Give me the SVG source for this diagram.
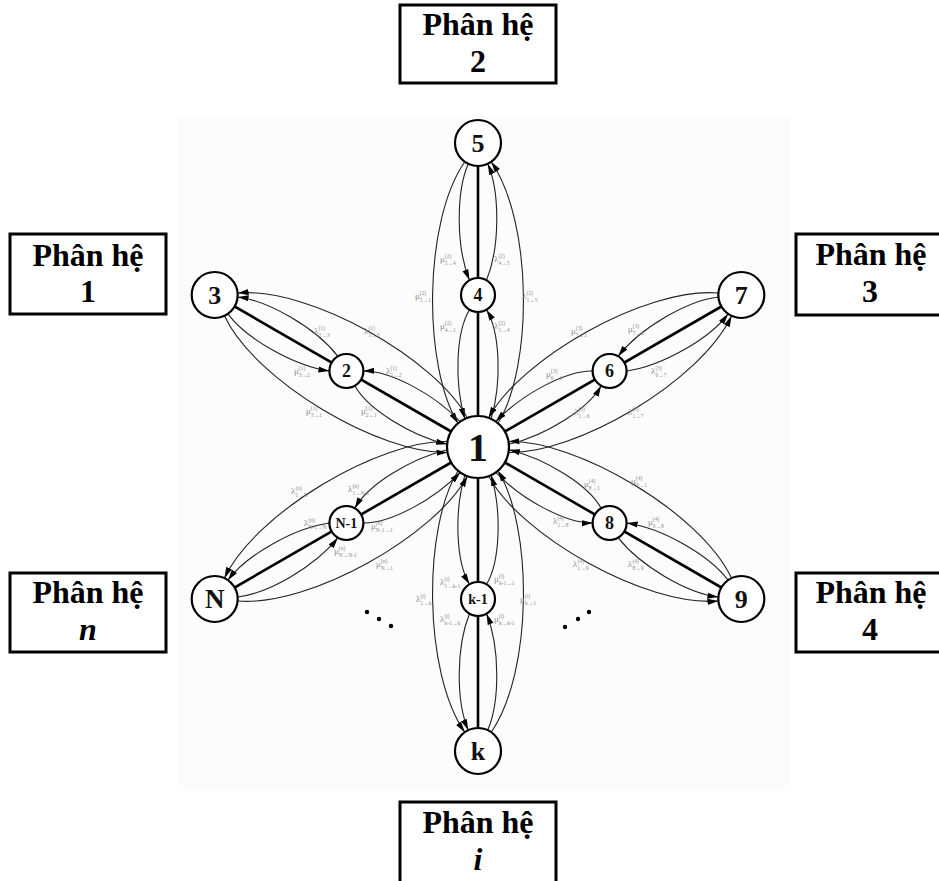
<svg xmlns="http://www.w3.org/2000/svg" width="939" height="881" viewBox="0 0 939 881">
<defs>
<style>
.box{fill:#fff;stroke:#000;stroke-width:3}
.bt{font-family:"Liberation Serif","Times New Roman",serif;font-weight:bold;font-size:32px;fill:#000;text-anchor:middle}
.nd{fill:#fff;stroke:#000;stroke-width:2.2}
.nt{font-family:"Liberation Serif","Times New Roman",serif;font-weight:bold;fill:#111;text-anchor:middle}
.thick{fill:none;stroke:#000;stroke-width:2.6}
.cv{fill:none;stroke:#222;stroke-width:1.1}
.ar{marker-end:url(#ah)}
.lb{font-family:"Liberation Serif","Times New Roman",serif;font-size:9px;fill:#8a8a8a}
.s{font-size:5.5px}
</style>
<marker id="ah" markerUnits="userSpaceOnUse" markerWidth="11" markerHeight="7" refX="11" refY="3.5" orient="auto">
<path d="M0,0.4 L11,3.5 L0,6.6 z" fill="#000"/>
</marker>
</defs>
<rect x="0" y="0" width="939" height="881" fill="#fff"/>
<rect x="178" y="115" width="612" height="675" fill="#fcfcfc"/>

<g id="boxes">
<g id="box-2"><rect class="box" x="400" y="5" width="156" height="78"/><text class="bt" x="478" y="35">Phân hệ</text><text class="bt" x="478" y="72">2</text></g>
<g id="box-1"><rect class="box" x="10" y="234" width="156" height="80"/><text class="bt" x="88" y="266">Phân hệ</text><text class="bt" x="88" y="302">1</text></g>
<g id="box-3"><rect class="box" x="796" y="234" width="160" height="81"/><text class="bt" x="871" y="265">Phân hệ</text><text class="bt" x="870" y="302">3</text></g>
<g id="box-4"><rect class="box" x="796" y="573" width="160" height="79"/><text class="bt" x="871" y="603">Phân hệ</text><text class="bt" x="870" y="640">4</text></g>
<g id="box-n"><rect class="box" x="10" y="573" width="156" height="79"/><text class="bt" x="88" y="603">Phân hệ</text><text class="bt" x="88" y="640" font-style="italic">n</text></g>
<g id="box-i"><rect class="box" x="400" y="802" width="156" height="90"/><text class="bt" x="478" y="833">Phân hệ</text><text class="bt" x="478" y="870" font-style="italic">i</text></g>
</g>

<g id="connectors">
<g id="spoke-2" transform="translate(478 447) rotate(0)">
<path class="thick" d="M0,0 L0,-304"/>
<path class="cv ar" d="M19.9,-23.7 C55,-80 55,-225 13.2,-285.2"/>
<path class="cv ar" d="M-13.2,-285.2 C-55,-225 -55,-80 -19.9,-23.7"/>
<path class="cv ar" d="M8.5,-166.7 C22,-200 22,-255 9.7,-283.2"/>
<path class="cv ar" d="M-9.7,-283.2 C-22,-255 -22,-200 -8.5,-166.7"/>
<path class="cv ar" d="M13.1,-28.1 C24,-65 22,-115 8.5,-137.3"/>
<path class="cv ar" d="M-8.5,-137.3 C-22,-115 -24,-65 -13.1,-28.1"/>
</g>
<g id="spoke-3" transform="translate(478 447) rotate(60)">
<path class="thick" d="M0,0 L0,-304"/>
<path class="cv ar" d="M19.9,-23.7 C55,-80 55,-225 13.2,-285.2"/>
<path class="cv ar" d="M-13.2,-285.2 C-55,-225 -55,-80 -19.9,-23.7"/>
<path class="cv ar" d="M8.5,-166.7 C22,-200 22,-255 9.7,-283.2"/>
<path class="cv ar" d="M-9.7,-283.2 C-22,-255 -22,-200 -8.5,-166.7"/>
<path class="cv ar" d="M13.1,-28.1 C24,-65 22,-115 8.5,-137.3"/>
<path class="cv ar" d="M-8.5,-137.3 C-22,-115 -24,-65 -13.1,-28.1"/>
</g>
<g id="spoke-4" transform="translate(478 447) rotate(120)">
<path class="thick" d="M0,0 L0,-304"/>
<path class="cv ar" d="M19.9,-23.7 C55,-80 55,-225 13.2,-285.2"/>
<path class="cv ar" d="M-13.2,-285.2 C-55,-225 -55,-80 -19.9,-23.7"/>
<path class="cv ar" d="M8.5,-166.7 C22,-200 22,-255 9.7,-283.2"/>
<path class="cv ar" d="M-9.7,-283.2 C-22,-255 -22,-200 -8.5,-166.7"/>
<path class="cv ar" d="M13.1,-28.1 C24,-65 22,-115 8.5,-137.3"/>
<path class="cv ar" d="M-8.5,-137.3 C-22,-115 -24,-65 -13.1,-28.1"/>
</g>
<g id="spoke-i" transform="translate(478 447) rotate(180)">
<path class="thick" d="M0,0 L0,-304"/>
<path class="cv ar" d="M19.9,-23.7 C55,-80 55,-225 13.2,-285.2"/>
<path class="cv ar" d="M-13.2,-285.2 C-55,-225 -55,-80 -19.9,-23.7"/>
<path class="cv ar" d="M8.5,-166.7 C22,-200 22,-255 9.7,-283.2"/>
<path class="cv ar" d="M-9.7,-283.2 C-22,-255 -22,-200 -8.5,-166.7"/>
<path class="cv ar" d="M13.1,-28.1 C24,-65 22,-115 8.5,-137.3"/>
<path class="cv ar" d="M-8.5,-137.3 C-22,-115 -24,-65 -13.1,-28.1"/>
</g>
<g id="spoke-n" transform="translate(478 447) rotate(240)">
<path class="thick" d="M0,0 L0,-304"/>
<path class="cv ar" d="M19.9,-23.7 C55,-80 55,-225 13.2,-285.2"/>
<path class="cv ar" d="M-13.2,-285.2 C-55,-225 -55,-80 -19.9,-23.7"/>
<path class="cv ar" d="M8.5,-166.7 C22,-200 22,-255 9.7,-283.2"/>
<path class="cv ar" d="M-9.7,-283.2 C-22,-255 -22,-200 -8.5,-166.7"/>
<path class="cv ar" d="M13.1,-28.1 C24,-65 22,-115 8.5,-137.3"/>
<path class="cv ar" d="M-8.5,-137.3 C-22,-115 -24,-65 -13.1,-28.1"/>
</g>
<g id="spoke-1" transform="translate(478 447) rotate(300)">
<path class="thick" d="M0,0 L0,-304"/>
<path class="cv ar" d="M19.9,-23.7 C55,-80 55,-225 13.2,-285.2"/>
<path class="cv ar" d="M-13.2,-285.2 C-55,-225 -55,-80 -19.9,-23.7"/>
<path class="cv ar" d="M8.5,-166.7 C22,-200 22,-255 9.7,-283.2"/>
<path class="cv ar" d="M-9.7,-283.2 C-22,-255 -22,-200 -8.5,-166.7"/>
<path class="cv ar" d="M13.1,-28.1 C24,-65 22,-115 8.5,-137.3"/>
<path class="cv ar" d="M-8.5,-137.3 C-22,-115 -24,-65 -13.1,-28.1"/>
</g>
</g>

<g id="labels">
<text class="lb" x="440" y="262">μ<tspan class="s" dy="-4">(2)</tspan><tspan class="s" dx="-6.4" dy="7">5→4</tspan></text>
<text class="lb" x="494" y="262">λ<tspan class="s" dy="-4">(2)</tspan><tspan class="s" dx="-6.4" dy="7">4→5</tspan></text>
<text class="lb" x="415" y="299">μ<tspan class="s" dy="-4">(2)</tspan><tspan class="s" dx="-6.4" dy="7">5→1</tspan></text>
<text class="lb" x="522" y="299">λ<tspan class="s" dy="-4">(2)</tspan><tspan class="s" dx="-6.4" dy="7">1→5</tspan></text>
<text class="lb" x="440" y="329">μ<tspan class="s" dy="-4">(2)</tspan><tspan class="s" dx="-6.4" dy="7">4→1</tspan></text>
<text class="lb" x="494" y="329">λ<tspan class="s" dy="-4">(2)</tspan><tspan class="s" dx="-6.4" dy="7">1→4</tspan></text>

<text class="lb" x="314" y="334">λ<tspan class="s" dy="-4">(1)</tspan><tspan class="s" dx="-6.4" dy="7">2→3</tspan></text>
<text class="lb" x="364" y="334">λ<tspan class="s" dy="-4">(1)</tspan><tspan class="s" dx="-6.4" dy="7">1→3</tspan></text>
<text class="lb" x="386" y="374">λ<tspan class="s" dy="-4">(1)</tspan><tspan class="s" dx="-6.4" dy="7">1→2</tspan></text>
<text class="lb" x="294" y="374">μ<tspan class="s" dy="-4">(1)</tspan><tspan class="s" dx="-6.4" dy="7">3→2</tspan></text>
<text class="lb" x="306" y="414">μ<tspan class="s" dy="-4">(1)</tspan><tspan class="s" dx="-6.4" dy="7">3→1</tspan></text>
<text class="lb" x="361" y="414">μ<tspan class="s" dy="-4">(1)</tspan><tspan class="s" dx="-6.4" dy="7">2→1</tspan></text>

<text class="lb" x="571" y="334">μ<tspan class="s" dy="-4">(3)</tspan><tspan class="s" dx="-6.4" dy="7">7→1</tspan></text>
<text class="lb" x="628" y="332">μ<tspan class="s" dy="-4">(3)</tspan><tspan class="s" dx="-6.4" dy="7">7→6</tspan></text>
<text class="lb" x="546" y="377">μ<tspan class="s" dy="-4">(3)</tspan><tspan class="s" dx="-6.4" dy="7">6→1</tspan></text>
<text class="lb" x="651" y="374">λ<tspan class="s" dy="-4">(3)</tspan><tspan class="s" dx="-6.4" dy="7">6→7</tspan></text>
<text class="lb" x="574" y="415">λ<tspan class="s" dy="-4">(3)</tspan><tspan class="s" dx="-6.4" dy="7">1→6</tspan></text>
<text class="lb" x="628" y="415">λ<tspan class="s" dy="-4">(3)</tspan><tspan class="s" dx="-6.4" dy="7">1→7</tspan></text>

<text class="lb" x="291" y="494">λ<tspan class="s" dy="-4">(n)</tspan><tspan class="s" dx="-6.4" dy="7">1→N</tspan></text>
<text class="lb" x="348" y="492">λ<tspan class="s" dy="-4">(n)</tspan><tspan class="s" dx="-6.4" dy="7">1→N-1</tspan></text>
<text class="lb" x="304" y="526">λ<tspan class="s" dy="-4">(n)</tspan><tspan class="s" dx="-6.4" dy="7">N-1→N</tspan></text>
<text class="lb" x="371" y="529">μ<tspan class="s" dy="-4">(n)</tspan><tspan class="s" dx="-6.4" dy="7">N-1→1</tspan></text>
<text class="lb" x="334" y="554">μ<tspan class="s" dy="-4">(n)</tspan><tspan class="s" dx="-6.4" dy="7">N→N-1</tspan></text>
<text class="lb" x="376" y="567">μ<tspan class="s" dy="-4">(n)</tspan><tspan class="s" dx="-6.4" dy="7">N→1</tspan></text>

<text class="lb" x="584" y="487">μ<tspan class="s" dy="-4">(4)</tspan><tspan class="s" dx="-6.4" dy="7">8→1</tspan></text>
<text class="lb" x="631" y="484">μ<tspan class="s" dy="-4">(4)</tspan><tspan class="s" dx="-6.4" dy="7">9→1</tspan></text>
<text class="lb" x="553" y="524">λ<tspan class="s" dy="-4">(4)</tspan><tspan class="s" dx="-6.4" dy="7">1→8</tspan></text>
<text class="lb" x="648" y="525">μ<tspan class="s" dy="-4">(4)</tspan><tspan class="s" dx="-6.4" dy="7">9→8</tspan></text>
<text class="lb" x="573" y="567">λ<tspan class="s" dy="-4">(4)</tspan><tspan class="s" dx="-6.4" dy="7">1→9</tspan></text>
<text class="lb" x="628" y="567">λ<tspan class="s" dy="-4">(4)</tspan><tspan class="s" dx="-6.4" dy="7">8→9</tspan></text>

<text class="lb" x="440" y="585">λ<tspan class="s" dy="-4">(i)</tspan><tspan class="s" dx="-5" dy="7">1→k-1</tspan></text>
<text class="lb" x="416" y="602">λ<tspan class="s" dy="-4">(i)</tspan><tspan class="s" dx="-5" dy="7">1→k</tspan></text>
<text class="lb" x="440" y="622">λ<tspan class="s" dy="-4">(i)</tspan><tspan class="s" dx="-5" dy="7">k-1→k</tspan></text>
<text class="lb" x="494" y="582">μ<tspan class="s" dy="-4">(i)</tspan><tspan class="s" dx="-5" dy="7">k-1→1</tspan></text>
<text class="lb" x="520" y="602">μ<tspan class="s" dy="-4">(i)</tspan><tspan class="s" dx="-5" dy="7">k→1</tspan></text>
<text class="lb" x="494" y="622">μ<tspan class="s" dy="-4">(i)</tspan><tspan class="s" dx="-5" dy="7">k→k-1</tspan></text>
</g>

<g id="nodes">
<g id="node-1"><circle class="nd" cx="478" cy="447" r="31"/><text class="nt" x="478" y="461" font-size="40">1</text></g>
<g id="node-5"><circle class="nd" cx="478" cy="143" r="23"/><text class="nt" x="478" y="152" font-size="26">5</text></g>
<g id="node-4"><circle class="nd" cx="478" cy="295" r="17"/><text class="nt" x="478" y="301" font-size="18">4</text></g>
<g id="node-3"><circle class="nd" cx="214.7" cy="295" r="23"/><text class="nt" x="214.7" y="304" font-size="26">3</text></g>
<g id="node-2"><circle class="nd" cx="346.4" cy="371" r="17"/><text class="nt" x="346.4" y="377" font-size="18">2</text></g>
<g id="node-7"><circle class="nd" cx="741.3" cy="295" r="23"/><text class="nt" x="741.3" y="304" font-size="26">7</text></g>
<g id="node-6"><circle class="nd" cx="609.6" cy="371" r="17"/><text class="nt" x="609.6" y="377" font-size="18">6</text></g>
<g id="node-9"><circle class="nd" cx="741.3" cy="599" r="23"/><text class="nt" x="741.3" y="608" font-size="26">9</text></g>
<g id="node-8"><circle class="nd" cx="609.6" cy="523" r="17"/><text class="nt" x="609.6" y="529" font-size="18">8</text></g>
<g id="node-k"><circle class="nd" cx="478" cy="751" r="23"/><text class="nt" x="478" y="760" font-size="26">k</text></g>
<g id="node-k-1"><circle class="nd" cx="478" cy="599" r="17"/><text class="nt" x="478" y="604" font-size="14">k-1</text></g>
<g id="node-N"><circle class="nd" cx="214.7" cy="599" r="23"/><text class="nt" x="214.7" y="608" font-size="27">N</text></g>
<g id="node-N-1"><circle class="nd" cx="346.4" cy="523" r="17"/><text class="nt" x="346.4" y="528" font-size="14">N-1</text></g>
</g>

<g id="ellipsis">
<circle cx="367" cy="612" r="2.2"/><circle cx="379" cy="619" r="2.2"/><circle cx="391" cy="626" r="2.2"/>
<circle cx="565" cy="627" r="2.2"/><circle cx="578" cy="619" r="2.2"/><circle cx="589" cy="612" r="2.2"/>
</g>
</svg>
